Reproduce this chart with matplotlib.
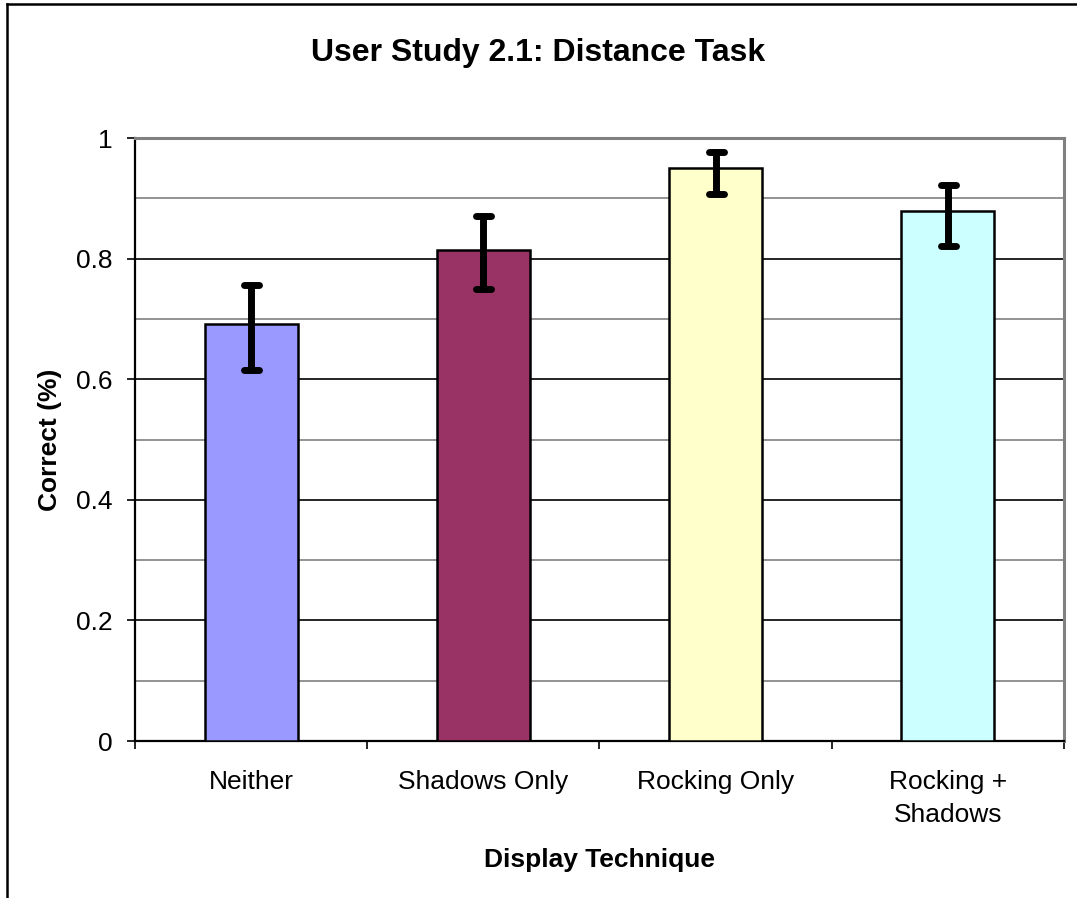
import numpy as np
import matplotlib
matplotlib.use('Agg')
import matplotlib.pyplot as plt
from matplotlib.lines import Line2D
from matplotlib.markers import MarkerStyle
from matplotlib.ticker import FixedLocator, NullFormatter, FormatStrFormatter

plt.rcParams['font.family'] = ['Liberation Sans', 'DejaVu Sans']

categories = ['Neither', 'Shadows Only', 'Rocking Only', 'Rocking +\nShadows']
correct = [0.691, 0.814, 0.951, 0.879]
err_low = [0.075, 0.065, 0.044, 0.058]
err_high = [0.065, 0.056, 0.025, 0.043]
colors = ['#9999FF', '#993366', '#FFFFCC', '#CCFFFF']

fig = plt.figure(figsize=(10.77, 8.98), dpi=100)
ax = fig.add_axes([0.1253, 0.1748, 0.8626, 0.6715])

x = np.arange(len(categories))
ax.bar(x, correct, width=0.4, color=colors, edgecolor='black', linewidth=1.8, zorder=3)

eb = ax.errorbar(x, correct, yerr=[err_low, err_high], fmt='none', ecolor='black',
                 elinewidth=5, capsize=5.4, capthick=5, zorder=4)
for cap in eb[1]:
    cap.set_marker(MarkerStyle('_', capstyle='round'))
    cap.set_markeredgewidth(5)
for col in eb[2]:
    col.set_capstyle('butt')

ax.set_xlim(-0.5, len(categories) - 0.5)
ax.set_ylim(0, 1)

# grid: light lines every 0.1, dark ones at the labelled 0.2 steps
for v in np.arange(0.1, 1.0, 0.2):
    ax.axhline(v, color='#808080', linewidth=1.2, zorder=1)
for v in np.arange(0.2, 1.0, 0.2):
    ax.axhline(v, color='black', linewidth=1.2, zorder=1)

ax.yaxis.set_major_locator(FixedLocator(np.arange(0, 1.01, 0.2)))
ax.yaxis.set_major_formatter(FormatStrFormatter('%g'))
ax.tick_params(axis='y', direction='out', length=6, width=1.2, pad=10,
               labelsize=19, color='black')

# tick marks between categories, labels centred under bars
ax.xaxis.set_major_locator(FixedLocator(np.arange(-0.5, len(categories), 1.0)))
ax.xaxis.set_major_formatter(NullFormatter())
ax.xaxis.set_minor_locator(FixedLocator(x))
ax.set_xticklabels(categories, minor=True)
ax.tick_params(axis='x', which='major', direction='out', length=6, width=1.2)
ax.tick_params(axis='x', which='minor', length=0, pad=21, labelsize=19)
for lbl in ax.get_xticklabels(minor=True):
    lbl.set_linespacing(1.45)

for side in ['top', 'right']:
    ax.spines[side].set_color('#808080')
    ax.spines[side].set_linewidth(2.2)
for side in ['left', 'bottom']:
    ax.spines[side].set_color('black')
    ax.spines[side].set_linewidth(1.6)

ax.set_ylabel('Correct (%)', fontsize=19, fontweight='bold')
ax.yaxis.set_label_coords(-0.079, 0.5)
ax.set_xlabel('Display Technique', fontsize=19, fontweight='bold')
ax.xaxis.set_label_coords(0.5, -0.178)

fig.text(0.5, 0.941, 'User Study 2.1: Distance Task', fontsize=23,
         fontweight='bold', ha='center', va='center')

# chart frame (left and top edges)
fig.add_artist(Line2D([0.0065, 0.0065], [0, 0.9955], color='black', linewidth=1.8,
                      transform=fig.transFigure))
fig.add_artist(Line2D([0.0065, 1.0], [0.9955, 0.9955], color='black', linewidth=1.8,
                      transform=fig.transFigure))

fig.savefig('out.png', dpi=100)
